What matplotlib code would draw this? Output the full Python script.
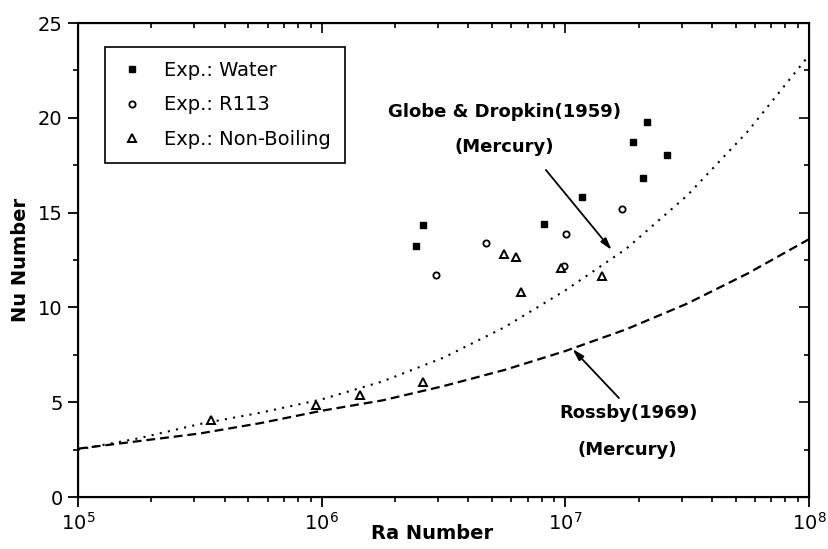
import matplotlib
matplotlib.use("Agg")
import matplotlib.pyplot as plt
from matplotlib.ticker import LogLocator, MultipleLocator, NullFormatter

plt.rcParams["font.family"] = ["DejaVu Sans"]

water_ra = [2.44e6, 2.6e6, 8.2e6, 1.17e7, 1.9e7, 2.09e7, 2.17e7, 2.61e7]
water_nu = [13.25, 14.35, 14.4, 15.8, 18.7, 16.85, 19.8, 18.05]

r113_ra = [2.94e6, 4.72e6, 9.9e6, 1.01e7, 1.71e7]
r113_nu = [11.7, 13.4, 12.2, 13.85, 15.2]

nb_ra = [3.5e5, 9.5e5, 1.44e6, 2.6e6, 5.6e6, 6.3e6, 6.6e6, 9.6e6, 1.41e7]
nb_nu = [4.05, 4.85, 5.4, 6.05, 12.8, 12.65, 10.8, 12.1, 11.65]

# Correlation curves
curve_ra = [1e5, 1.78e5, 3.16e5, 5.62e5, 1e6, 1.78e6, 3.16e6, 5.62e6,
            1e7, 1.78e7, 3.16e7, 5.62e7, 1e8]
globe_nu = [2.5, 3.1, 3.85, 4.45, 5.15, 6.1, 7.35, 8.95,
            10.9, 13.1, 15.9, 19.3, 23.3]
rossby_nu = [2.55, 2.95, 3.35, 3.9, 4.55, 5.1, 5.85, 6.7,
             7.7, 8.85, 10.2, 11.8, 13.6]

fig = plt.figure(figsize=(8.29, 5.49), dpi=100)
ax = fig.add_axes([0.0941, 0.0947, 0.8818, 0.8633])

ax.plot(curve_ra, globe_nu, color="black", lw=1.5, linestyle=(0, (1, 3)))
ax.plot(curve_ra, rossby_nu, color="black", lw=1.6, linestyle=(0, (4, 2.2)))

ax.plot(water_ra, water_nu, "s", color="black", ms=4.5, label="Exp.: Water")
ax.plot(r113_ra, r113_nu, "o", mfc="white", mec="black", mew=1.3, ms=4.5,
        label="Exp.: R113")
ax.plot(nb_ra, nb_nu, "^", mfc="white", mec="black", mew=1.4, ms=5.5,
        label="Exp.: Non-Boiling")

ax.set_xscale("log")
ax.set_xlim(1e5, 1e8)
ax.set_ylim(0, 25)
ax.yaxis.set_major_locator(MultipleLocator(5))
ax.yaxis.set_minor_locator(MultipleLocator(2.5))
ax.xaxis.set_minor_locator(LogLocator(base=10, subs=range(2, 10)))
ax.xaxis.set_minor_formatter(NullFormatter())

for s in ax.spines.values():
    s.set_linewidth(1.5)
ax.tick_params(which="major", direction="out", length=7, width=1.3,
               labelsize=14, pad=4)
ax.tick_params(which="minor", direction="out", length=3.5, width=1.2)

# inward ticks on top and right
axt = ax.twiny()
axt.set_xscale("log")
axt.set_xlim(1e5, 1e8)
axt.xaxis.set_minor_locator(LogLocator(base=10, subs=range(2, 10)))
axt.tick_params(which="both", direction="in", labeltop=False, width=1.2)
axt.tick_params(which="major", length=7)
axt.tick_params(which="minor", length=3.5)
axr = ax.twinx()
axr.set_ylim(0, 25)
axr.yaxis.set_major_locator(MultipleLocator(5))
axr.yaxis.set_minor_locator(MultipleLocator(2.5))
axr.tick_params(which="both", direction="in", labelright=False, width=1.2)
axr.tick_params(which="major", length=7)
axr.tick_params(which="minor", length=3.5)

ax.set_xlabel("Ra Number", fontsize=14, fontweight="bold")
ax.xaxis.set_label_coords(0.484, -0.058)
ax.set_ylabel("Nu Number", fontsize=14, fontweight="bold", labelpad=6)

leg = ax.legend(loc="upper left", bbox_to_anchor=(0.037, 0.949),
                fontsize=14, frameon=True, fancybox=False, framealpha=1,
                edgecolor="black", handlelength=1.4, handletextpad=0.95,
                labelspacing=0.8, borderpad=0.7, borderaxespad=0)
leg.get_frame().set_linewidth(1.2)

bold = dict(fontsize=13, fontweight="bold", ha="center", va="center")
ax.text(5.65e6, 20.3, "Globe & Dropkin(1959)", **bold)
ax.text(5.6e6, 18.46, "(Mercury)", **bold)
ax.text(1.82e7, 4.43, "Rossby(1969)", **bold)
ax.text(1.79e7, 2.48, "(Mercury)", **bold)

arrow = dict(arrowstyle="-|>,head_length=0.7,head_width=0.2", color="black",
             lw=1.3, shrinkA=0, shrinkB=0)
ax.annotate("", xy=(1.549e7, 13.03), xytext=(8.32e6, 17.25), arrowprops=arrow)
ax.annotate("", xy=(1.07e7, 7.81), xytext=(1.66e7, 5.22), arrowprops=arrow)

fig.savefig("out.png", dpi=100)
